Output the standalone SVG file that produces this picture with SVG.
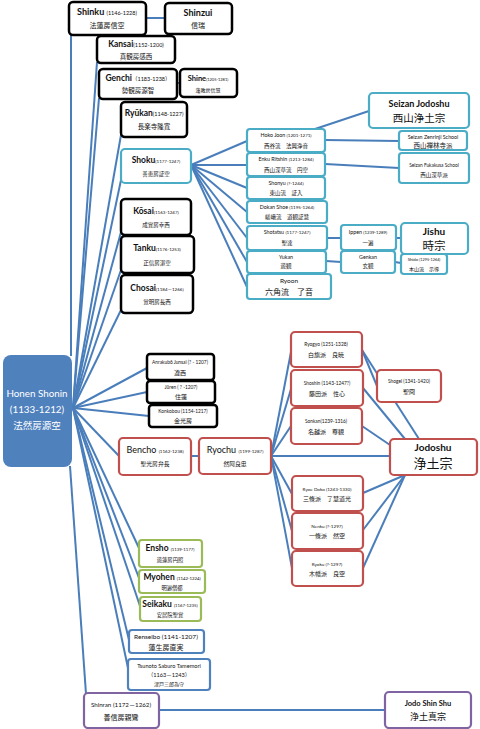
<svg xmlns="http://www.w3.org/2000/svg" width="480" height="729" viewBox="0 0 480 729">
<style>
text{font-family:Lato,"Liberation Sans","Noto Sans CJK JP",sans-serif;text-anchor:middle;fill:#111}
.k{font-family:"Noto Sans CJK JP",sans-serif}
.n{font-weight:bold}
.b rect{fill:#fff;stroke:#000;stroke-width:2.5}
.c rect{fill:#fff;stroke:#4bacc6;stroke-width:2.2}
.r rect{fill:#fff;stroke:#c0504d;stroke-width:2.2}
.g rect{fill:#fff;stroke:#9bbb59;stroke-width:2.2}
.u rect{fill:#fff;stroke:#4f81bd;stroke-width:2.2}
.p rect{fill:#fff;stroke:#8064a2;stroke-width:2.2}
#edges line{stroke:#4a7ebb;stroke-width:2}
</style>
<g id="edges">
<line x1="71" y1="35" x2="71" y2="356"/>
<line x1="73" y1="408" x2="97" y2="62"/>
<line x1="73" y1="408" x2="99" y2="98"/>
<line x1="73" y1="408" x2="121" y2="135"/>
<line x1="73" y1="408" x2="121" y2="180"/>
<line x1="73" y1="408" x2="121" y2="232"/>
<line x1="73" y1="408" x2="121" y2="270"/>
<line x1="73" y1="408" x2="121" y2="310"/>
<line x1="73" y1="408" x2="147" y2="368"/>
<line x1="73" y1="408" x2="147" y2="392"/>
<line x1="73" y1="408" x2="149" y2="416"/>
<line x1="73" y1="408" x2="119" y2="456"/>
<line x1="73" y1="408" x2="139" y2="548"/>
<line x1="73" y1="408" x2="139" y2="578"/>
<line x1="73" y1="408" x2="140" y2="606"/>
<line x1="73" y1="408" x2="129" y2="640"/>
<line x1="73" y1="408" x2="128" y2="668"/>
<line x1="70" y1="466" x2="86" y2="694"/>
<line x1="146" y1="18" x2="165" y2="18"/>
<line x1="177" y1="83" x2="180" y2="83"/>
<line x1="191" y1="165" x2="247" y2="141"/>
<line x1="191" y1="165" x2="247" y2="165"/>
<line x1="191" y1="165" x2="247" y2="188"/>
<line x1="191" y1="165" x2="247" y2="212"/>
<line x1="191" y1="165" x2="247" y2="238"/>
<line x1="191" y1="165" x2="247" y2="262"/>
<line x1="191" y1="165" x2="247" y2="287"/>
<line x1="315" y1="129" x2="369" y2="111"/>
<line x1="325" y1="140" x2="399" y2="141"/>
<line x1="325" y1="164" x2="399" y2="168"/>
<line x1="327" y1="238" x2="341" y2="238"/>
<line x1="396" y1="238" x2="401" y2="238"/>
<line x1="326" y1="261" x2="341" y2="262"/>
<line x1="395" y1="262" x2="401" y2="263"/>
<line x1="191" y1="456" x2="199" y2="456"/>
<line x1="271" y1="456" x2="291" y2="352"/>
<line x1="271" y1="456" x2="291" y2="389"/>
<line x1="271" y1="456" x2="291" y2="426"/>
<line x1="271" y1="456" x2="390" y2="456"/>
<line x1="271" y1="456" x2="292" y2="494"/>
<line x1="271" y1="456" x2="292" y2="531"/>
<line x1="271" y1="456" x2="292" y2="568"/>
<line x1="362" y1="350" x2="377" y2="386"/>
<line x1="362" y1="350" x2="419" y2="439"/>
<line x1="363" y1="388" x2="405" y2="439"/>
<line x1="362" y1="426" x2="390" y2="445"/>
<line x1="363" y1="493" x2="405" y2="475"/>
<line x1="363" y1="530" x2="405" y2="475"/>
<line x1="363" y1="568" x2="405" y2="475"/>
<line x1="159" y1="710" x2="385" y2="710"/>
</g>
<g id="honen"><rect x="3" y="355" width="69" height="112" rx="8" fill="#4f81bd"/>
<text x="37" y="397" font-size="9.8" style="fill:#fff">Honen Shonin</text>
<text x="37" y="413" font-size="9.8" style="fill:#fff">(1133-1212)</text>
<text x="37" y="429" font-size="9.5" class="k" style="fill:#fff">法然房源空</text></g>
<g id="shinku" class="b"><rect x="69" y="2" width="77" height="33" rx="4"/>
<text x="107" y="15" font-size="9" class="n">Shinku <tspan font-size="5.5" font-weight="normal">(1146-1228)</tspan></text>
<text x="107" y="28" font-size="7" class="k">法蓮房信空</text></g>
<g id="shinzui" class="b"><rect x="165" y="3" width="67" height="31" rx="4"/>
<text x="198" y="16" font-size="9" class="n">Shinzui</text>
<text x="198" y="28" font-size="7" class="k">信瑞</text></g>
<g id="kansai" class="b"><rect x="97" y="36" width="78" height="27" rx="4"/>
<text x="136" y="47" font-size="8.5" class="n">Kansai<tspan font-size="5.5" font-weight="normal">(1152-1200)</tspan></text>
<text x="136" y="58.500" font-size="6.5" class="k">真観房感西</text></g>
<g id="genchi" class="b"><rect x="99" y="69" width="78" height="30" rx="4"/>
<text x="138" y="81" font-size="8.5" class="n">Genchi<tspan font-size="5.5" font-weight="normal">（1183-1238）</tspan></text>
<text x="138" y="93" font-size="6.5" class="k">勢観房源智</text></g>
<g id="shine" class="b"><rect x="180" y="69" width="57" height="28" rx="4"/>
<text x="208" y="81" font-size="7.5" class="n">Shine<tspan font-size="4" font-weight="normal">(1205-1281)</tspan></text>
<text x="208" y="92" font-size="5" class="k">蓮教房信慧</text></g>
<g id="ryukan" class="b"><rect x="121" y="102" width="66" height="35" rx="4"/>
<text x="154" y="116" font-size="8.5" class="n">Ryūkan<tspan font-size="5.5" font-weight="normal">(1148-1227)</tspan></text>
<text x="154" y="129" font-size="6.5" class="k">長楽寺隆寛</text></g>
<g id="shoku" class="c"><rect x="121" y="149" width="70" height="34" rx="4"/>
<text x="156" y="163" font-size="8.5" class="n">Shoku<tspan font-size="4.5" font-weight="normal">(1177-1247)</tspan></text>
<text x="156" y="176" font-size="5.5" class="k">善恵房証空</text></g>
<g id="kosai" class="b"><rect x="121" y="199" width="70" height="36" rx="4"/>
<text x="156" y="214" font-size="8.5" class="n">Kōsai<tspan font-size="4.5" font-weight="normal">(1163-1247)</tspan></text>
<text x="156" y="227" font-size="5.5" class="k">成覚房幸西</text></g>
<g id="tanku" class="b"><rect x="121" y="236" width="73" height="37" rx="4"/>
<text x="157" y="251" font-size="8.5" class="n">Tanku<tspan font-size="4.5" font-weight="normal">(1176-1253)</tspan></text>
<text x="157" y="265" font-size="5.5" class="k">正信房湛空</text></g>
<g id="chosai" class="b"><rect x="121" y="275" width="72" height="38" rx="4"/>
<text x="157" y="291" font-size="8.5" class="n">Chosai<tspan font-size="4.5" font-weight="normal">(1184－1266)</tspan></text>
<text x="157" y="304" font-size="5.5" class="k">覚明房長西</text></g>
<g id="seizan" class="c"><rect x="369" y="93" width="100" height="35" rx="4"/>
<text x="419" y="107" font-size="9" class="n">Seizan Jodoshu</text>
<text x="419" y="122" font-size="10.5" class="k">西山浄土宗</text></g>
<g id="hoko" class="c"><rect x="247" y="129" width="78" height="23" rx="3"/>
<text x="286" y="137" font-size="5.3">Hoko Joon <tspan font-size="4.5">(1201-1271)</tspan></text>
<text x="286" y="148" font-size="5.5" class="k">西谷流　法興浄音</text></g>
<g id="zenrinji" class="c"><rect x="399" y="131" width="68" height="19" rx="3"/>
<text x="433" y="138.500" font-size="5.3">Seizan Zenrinji School</text>
<text x="433" y="147.500" font-size="6.5" class="k">西山禅林寺派</text></g>
<g id="enku" class="c"><rect x="247" y="153" width="78" height="23" rx="3"/>
<text x="286" y="161" font-size="5.3">Enku Ritshin <tspan font-size="4.5">(1213-1284)</tspan></text>
<text x="286" y="172" font-size="5.5" class="k">西山深草流　円空</text></g>
<g id="fukakusa" class="c"><rect x="399" y="153" width="70" height="30" rx="3"/>
<text x="434" y="167" font-size="4.8">Seizan Fukakusa School</text>
<text x="434" y="177" font-size="5.5" class="k">西山深草派</text></g>
<g id="shonyu" class="c"><rect x="247" y="177" width="78" height="22" rx="3"/>
<text x="286" y="185" font-size="5.3">Shonyu <tspan font-size="4.5">(?-1244)</tspan></text>
<text x="286" y="195" font-size="5.5" class="k">東山流　証入</text></g>
<g id="dokan" class="c"><rect x="247" y="201" width="80" height="22" rx="3"/>
<text x="287" y="208.500" font-size="5.3">Dokan Shoe <tspan font-size="4.5">(1195-1264)</tspan></text>
<text x="287" y="218.500" font-size="5.5" class="k">嵯峨流　道観証慧</text></g>
<g id="shotatsu" class="c"><rect x="247" y="226" width="80" height="24" rx="3"/>
<text x="287" y="234" font-size="5.3">Shotatsu <tspan font-size="4.5">(1177-1247)</tspan></text>
<text x="287" y="245" font-size="5.5" class="k">聖達</text></g>
<g id="yukan" class="c"><rect x="247" y="251" width="79" height="22" rx="3"/>
<text x="286" y="258.500" font-size="5.3">Yukan</text>
<text x="286" y="268" font-size="5.5" class="k">遊観</text></g>
<g id="ryoon" class="c"><rect x="247" y="274" width="84" height="25" rx="3"/>
<text x="289" y="283" font-size="6.5">Ryoon</text>
<text x="289" y="295" font-size="8" class="k">六角流　了音</text></g>
<g id="ippen" class="c"><rect x="341" y="225" width="55" height="25" rx="3"/>
<text x="368" y="234" font-size="5.3">Ippen <tspan font-size="4.3">(1239-1289)</tspan></text>
<text x="368" y="245" font-size="5.5" class="k">一遍</text></g>
<g id="genkan" class="c"><rect x="341" y="251" width="54" height="22" rx="3"/>
<text x="368" y="259" font-size="5.3">Genkan</text>
<text x="368" y="268" font-size="5.5" class="k">玄観</text></g>
<g id="jishu" class="c"><rect x="401" y="223" width="67" height="31" rx="4"/>
<text x="434" y="235" font-size="10" class="n">Jishu</text>
<text x="434" y="250" font-size="11.5" class="k">時宗</text></g>
<g id="shido" class="c"><rect x="401" y="254" width="46" height="20" rx="3"/>
<text x="424" y="261" font-size="4.3">Shido <tspan font-size="3.8">(1295-1264)</tspan></text>
<text x="424" y="270.500" font-size="5" class="k">本山流　示導</text></g>
<g id="anrakubo" class="b"><rect x="147" y="354" width="67" height="26" rx="3"/>
<text x="180" y="364" font-size="4.8">Anrakubō Junsai (? - 1207)</text>
<text x="180" y="375" font-size="6" class="k">遵西</text></g>
<g id="juren" class="b"><rect x="147" y="381" width="68" height="22" rx="3"/>
<text x="181" y="389" font-size="4.8">Jūren ( ? -1207)</text>
<text x="181" y="399" font-size="6" class="k">住蓮</text></g>
<g id="konkobo" class="b"><rect x="149" y="405" width="68" height="22" rx="3"/>
<text x="183" y="413" font-size="4.8">Konkobou (1154-1217)</text>
<text x="183" y="423" font-size="6" class="k">金光房</text></g>
<g id="bencho" class="r"><rect x="119" y="438" width="72" height="37" rx="4"/>
<text x="155" y="453" font-size="9">Bencho <tspan font-size="4.5">(1162-1238)</tspan></text>
<text x="155" y="466" font-size="5.8" class="k">聖光房弁長</text></g>
<g id="ryochu" class="r"><rect x="199" y="438" width="72" height="36" rx="4"/>
<text x="235" y="453" font-size="9">Ryochu <tspan font-size="4.5">(1199-1287)</tspan></text>
<text x="235" y="466" font-size="5.8" class="k">然阿良忠</text></g>
<g id="ryogyo" class="r"><rect x="291" y="332" width="71" height="35" rx="4"/>
<text x="326" y="346" font-size="4.8">Ryogyo (1251-1328)</text>
<text x="326" y="357" font-size="6" class="k">白旗派　良暁</text></g>
<g id="shoshin" class="r"><rect x="291" y="370" width="72" height="36" rx="4"/>
<text x="327" y="385" font-size="4.8">Shoshin (1143-1247?)</text>
<text x="327" y="396" font-size="6" class="k">藤田派　性心</text></g>
<g id="sonkan" class="r"><rect x="291" y="408" width="71" height="36" rx="4"/>
<text x="326" y="423" font-size="4.8">Sonkan(1239-1316)</text>
<text x="326" y="434" font-size="6" class="k">名越派　尊観</text></g>
<g id="shogei" class="r"><rect x="377" y="370" width="64" height="32" rx="4"/>
<text x="409" y="383" font-size="4.8">Shogei (1341-1420)</text>
<text x="409" y="394" font-size="6" class="k">聖冏</text></g>
<g id="jodoshu" class="r"><rect x="390" y="439" width="87" height="36" rx="4"/>
<text x="433" y="451" font-size="10" class="n">Jodoshu</text>
<text x="433" y="468" font-size="13" class="k">浄土宗</text></g>
<g id="ryoe" class="r"><rect x="292" y="476" width="71" height="35" rx="4"/>
<text x="327" y="491" font-size="4.6">Ryoe Doko (1243-1330)</text>
<text x="327" y="501" font-size="6" class="k">三條派　了慧道光</text></g>
<g id="nenku" class="r"><rect x="292" y="513" width="71" height="36" rx="4"/>
<text x="327" y="528" font-size="4.6">Nenku (?-1297)</text>
<text x="327" y="538" font-size="6" class="k">一條派　然空</text></g>
<g id="ryoku" class="r"><rect x="292" y="551" width="71" height="35" rx="4"/>
<text x="327" y="566" font-size="4.6">Ryoku (?-1297)</text>
<text x="327" y="576" font-size="6" class="k">木幡派　良空</text></g>
<g id="ensho" class="g"><rect x="139" y="540" width="63" height="27" rx="3"/>
<text x="170" y="551" font-size="8.5" class="n">Ensho <tspan font-size="4.3" font-weight="normal">(1139-1177)</tspan></text>
<text x="170" y="562" font-size="5.3" class="k">遊蓮房円照</text></g>
<g id="myohen" class="g"><rect x="139" y="570" width="66" height="23" rx="3"/>
<text x="172" y="580" font-size="8.5" class="n">Myohen <tspan font-size="4.3" font-weight="normal">(1142-1224)</tspan></text>
<text x="172" y="590" font-size="5.3" class="k">明遍僧都</text></g>
<g id="seikaku" class="g"><rect x="140" y="597" width="61" height="24" rx="3"/>
<text x="170" y="607" font-size="8.5" class="n">Seikaku <tspan font-size="4.3" font-weight="normal">(1167-1235)</tspan></text>
<text x="170" y="617" font-size="5.3" class="k">安居院聖覚</text></g>
<g id="renseibo" class="u"><rect x="129" y="630" width="75" height="23" rx="3"/>
<text x="166" y="639" font-size="6.5">Renseibo (1141-1207)</text>
<text x="166" y="649.500" font-size="7" class="k">蓮生房直実</text></g>
<g id="tsunoto" class="u"><rect x="128" y="659" width="82" height="31" rx="3"/>
<text x="169" y="667.500" font-size="5.6">Tsunoto Saburo Tamemori</text>
<text x="169" y="676.500" font-size="5.6">（1163－1243）</text>
<text x="169" y="686" font-size="5" class="k">津戸三郎為守</text></g>
<g id="shinran" class="p"><rect x="84" y="693" width="75" height="35" rx="4"/>
<text x="121" y="707" font-size="6.2">Shinran (1172－1262)</text>
<text x="121" y="720" font-size="7" class="k">善信房親鸞</text></g>
<g id="jodoshinshu" class="p"><rect x="385" y="692" width="86" height="36" rx="4"/>
<text x="428" y="706" font-size="7.5" class="n">Jodo Shin Shu</text>
<text x="428" y="720" font-size="9" class="k">浄土真宗</text></g>
</svg>
